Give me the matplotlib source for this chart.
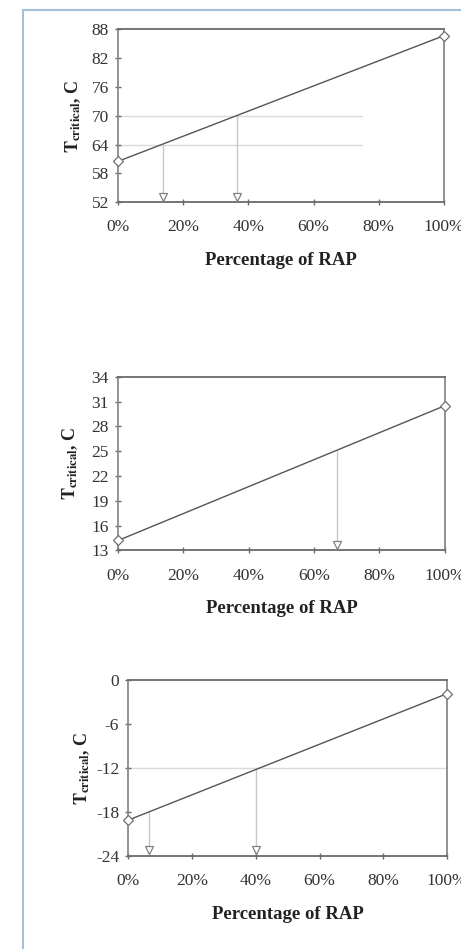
import matplotlib.pyplot as plt
from matplotlib.lines import Line2D
from matplotlib.transforms import ScaledTranslation

plt.rcParams['font.family'] = ['Liberation Serif', 'DejaVu Serif']
plt.rcParams['mathtext.fontset'] = 'stix'
plt.rcParams['axes.unicode_minus'] = False

# RAP percentage at the two blend ends
rap = [0, 100]
xticks = [0, 20, 40, 60, 80, 100]
xtick_labels = ['0%', '20%', '40%', '60%', '80%', '100%']

# high temperature panel
t_high = [60.5, 86.7]
yt_high = [52, 58, 64, 70, 76, 82, 88]
ref_high = [64, 70]
drop_high_x = [13.8, 36.5]
drop_high_y = [64, 70]

# intermediate temperature panel
t_mid = [14.2, 30.5]
yt_mid = [13, 16, 19, 22, 25, 28, 31, 34]
ref_mid = []
drop_mid_x = [67]
drop_mid_y = [25]

# low temperature panel
t_low = [-19.1, -1.8]
yt_low = [-24, -18, -12, -6, 0]
ref_low = [-12]
drop_low_x = [6.5, 40]
drop_low_y = [-18, -12]

panels = [
    (t_high, yt_high, ref_high, 75, drop_high_x, drop_high_y, [0.256, 0.787, 0.707, 0.182], 6),
    (t_mid, yt_mid, ref_mid, 100, drop_mid_x, drop_mid_y, [0.256, 0.420, 0.709, 0.183], 8),
    (t_low, yt_low, ref_low, 100, drop_low_x, drop_low_y, [0.278, 0.098, 0.692, 0.185], 3),
]

fig = plt.figure(figsize=(4.61, 9.49), dpi=100)

for vals, yt, refs, ref_end, dx, dy, pos, ylpad in panels:
    ax = fig.add_axes(pos)
    ymin, ymax = yt[0], yt[-1]
    for r in refs:
        ax.plot([0, ref_end], [r, r], color='#dadada', lw=1.0, zorder=1)
    for x, y in zip(dx, dy):
        ax.plot([x, x], [y, ymin], color='#c8c8c8', lw=1.0, zorder=1)
        off = ScaledTranslation(0, 4 / 72, fig.dpi_scale_trans)
        ax.plot([x], [ymin], marker='v', ms=6, mfc='white', mec='#808080',
                mew=0.9, transform=ax.transData + off, clip_on=False, zorder=3)
    ax.plot([100, 100], [vals[1], ymin], color='#d0d0d0', lw=1.0, zorder=1)
    ax.plot(rap, vals, color='#555555', lw=1.0, marker='D', ms=5,
            mfc='white', mec='#707070', mew=0.9, clip_on=False, zorder=4)
    ax.set_xlim(0, 100)
    ax.set_ylim(ymin, ymax)
    ax.set_xticks(xticks)
    ax.set_xticklabels(xtick_labels)
    ax.set_yticks(yt)
    for s in ax.spines.values():
        s.set_color('#8a8a8a')
        s.set_linewidth(1.3)
    ax.spines['top'].set_color('#6a6a6a')
    ax.spines['bottom'].set_color('#6a6a6a')
    ax.tick_params(direction='inout', length=5, width=1, color='#6a6a6a',
                   labelsize=12.5, labelcolor='#333333')
    ax.tick_params(axis='x', pad=10)
    ax.tick_params(axis='y', pad=4)
    ax.set_xlabel('Percentage of RAP', fontsize=13.5, fontweight='bold',
                  color='#222222', labelpad=12)
    ax.set_ylabel(r'$\mathbf{T}_{\mathbf{critical}}$, C', fontsize=13,
                  fontweight='bold', color='#222222', labelpad=ylpad)

# light blue page frame
fig.add_artist(Line2D([0.050, 0.050], [0.0, 0.9895], color='#a3bfdb', lw=1.5))
fig.add_artist(Line2D([0.050, 1.0], [0.9895, 0.9895], color='#a3bfdb', lw=1.5))

fig.savefig('out.png', dpi=100, facecolor='white')
